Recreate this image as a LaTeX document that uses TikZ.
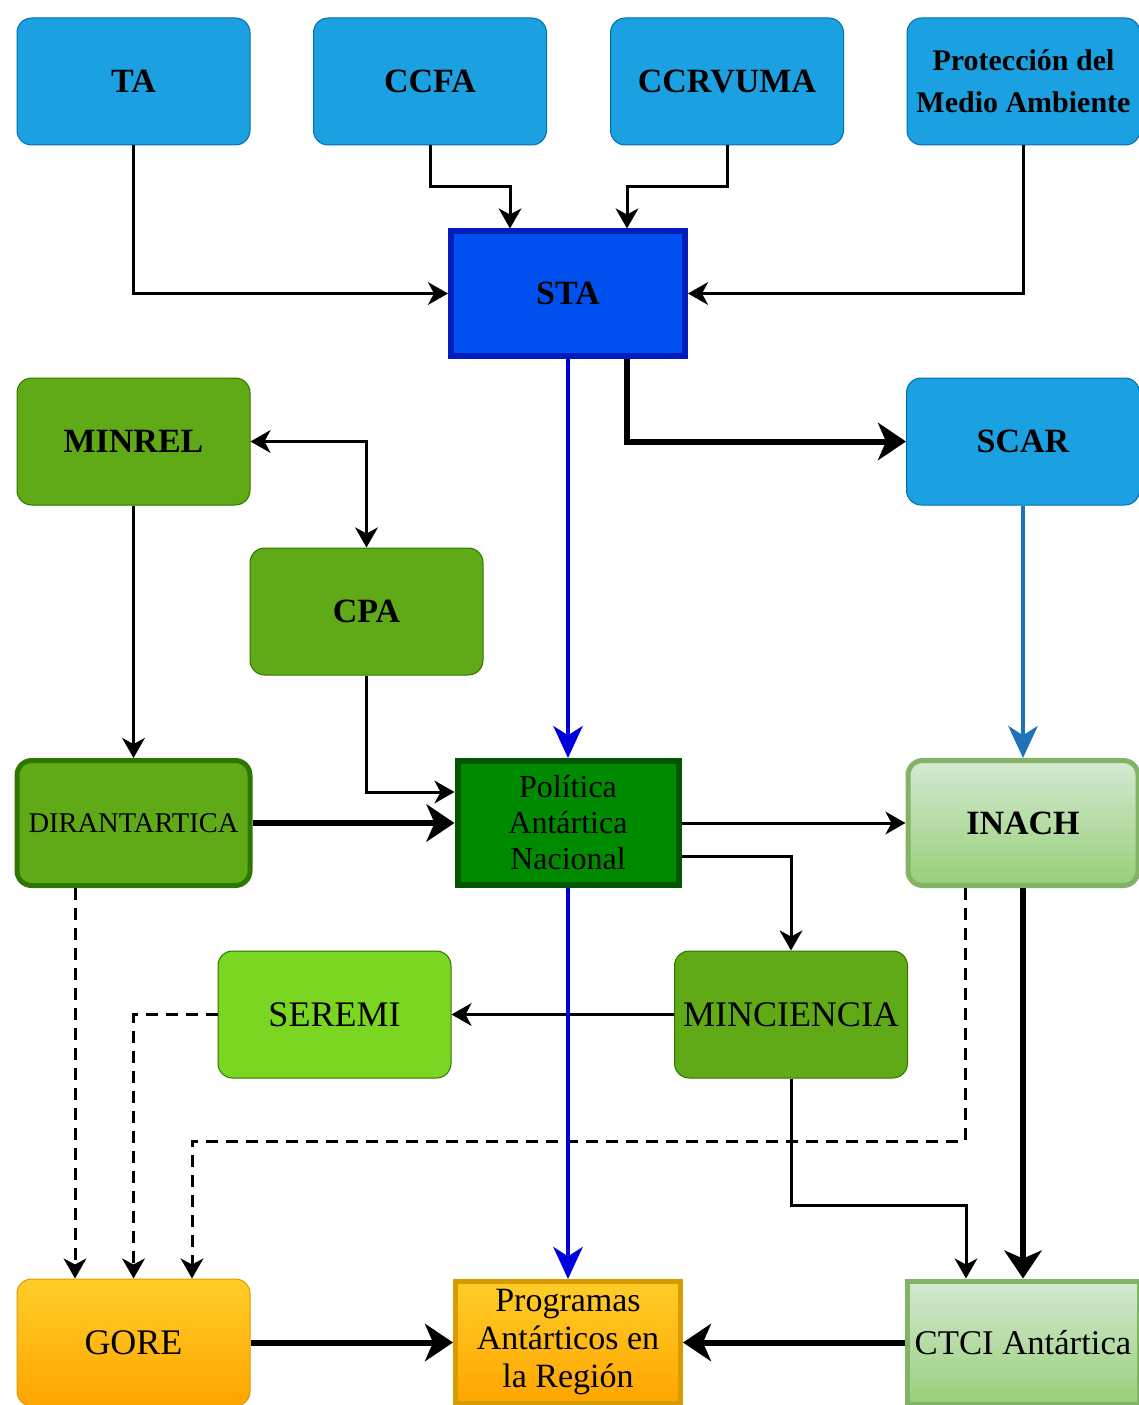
\documentclass[tikz,border=0pt]{standalone}
\usepackage{fontspec}
\setmainfont{Liberation Serif}
\usetikzlibrary{arrows.meta,calc}
\definecolor{blFill}{HTML}{1BA1E2}
\definecolor{blDraw}{HTML}{006EAF}
\definecolor{staFill}{HTML}{0050EF}
\definecolor{staDraw}{HTML}{001DBC}
\definecolor{gFill}{HTML}{60A917}
\definecolor{gDraw}{HTML}{2D7600}
\definecolor{seFill}{HTML}{7AD620}
\definecolor{panFill}{HTML}{008A00}
\definecolor{panDraw}{HTML}{005700}
\definecolor{lgTop}{HTML}{D5E8D4}
\definecolor{lgBot}{HTML}{97D077}
\definecolor{lgDraw}{HTML}{82B366}
\definecolor{orTop}{HTML}{FFCD28}
\definecolor{orBot}{HTML}{FFA500}
\definecolor{orDraw}{HTML}{D79B00}
\definecolor{arBlue}{HTML}{0000DD}
\definecolor{arSky}{HTML}{1D72B8}
\tikzset{
  rbox/.style={rounded corners=11pt, draw, line width=0.75pt, inner sep=0pt, align=center,
     minimum width=174.75pt, minimum height=95.25pt},
  bluebox/.style={rbox, fill=blFill, draw=blDraw, font=\bfseries\fontsize{25.5pt}{30pt}\selectfont},
  greenbox/.style={rbox, fill=gFill, draw=gDraw, font=\bfseries\fontsize{25.5pt}{30pt}\selectfont},
  thinar/.style={line width=2.25pt, -{Stealth[length=15pt,width=17pt,inset=4.5pt]}},
  thickar/.style={line width=4.5pt, -{Stealth[length=21pt,width=28pt,inset=6pt]}},
  bluear/.style={line width=3pt, arBlue, -{Stealth[length=24pt,width=22pt,inset=7pt]}},
  skyar/.style={line width=3pt, arSky, -{Stealth[length=24pt,width=22pt,inset=7pt]}},
  dashar/.style={line width=2.25pt, dash pattern=on 9pt off 6pt, -{Stealth[length=15pt,width=17pt,inset=4.5pt]}},
}
\begin{document}
\begin{tikzpicture}[x=0.75pt,y=-0.75pt]
\useasboundingbox (0,0) rectangle (1138,1405);
% top row
\node[bluebox] (TA) at (133.5,81.5) {TA};
\node[bluebox] (CCFA) at (430,81.5) {CCFA};
\node[bluebox] (CCR) at (727,81.5) {CCRVUMA};
\node[bluebox, font=\bfseries\fontsize{22.5pt}{31.5pt}\selectfont] (PMA) at (1023.5,81.5) {Protección del\\Medio Ambiente};
% STA
\node[draw=staDraw, fill=staFill, line width=4.5pt, minimum width=175.5pt, minimum height=93pt, inner sep=0pt,
      font=\bfseries\fontsize{25.5pt}{30pt}\selectfont] (STA) at (568,293.5) {STA};
% second row
\node[greenbox] (MINREL) at (133.5,441.5) {MINREL};
\node[bluebox] (SCAR) at (1023,441.5) {SCAR};
\node[greenbox] (CPA) at (366.5,611.5) {CPA};
% middle row
\node[rbox, fill=gFill, draw=gDraw, line width=3.75pt, minimum width=174.75pt, minimum height=93.75pt,
      font=\fontsize{21.4pt}{26pt}\selectfont] (DIR) at (133.5,823) {DIRANTARTICA};
\node[draw=panDraw, fill=panFill, line width=4.5pt, minimum width=165.75pt, minimum height=93pt, inner sep=0pt, align=center,
      font=\fontsize{24pt}{27pt}\selectfont] (PAN) at (568,823) {Política\\Antártica\\Nacional};
\node[rbox, top color=lgTop, bottom color=lgBot, draw=lgDraw, line width=3.75pt, minimum width=172.5pt, minimum height=93.75pt,
      font=\bfseries\fontsize{25.5pt}{30pt}\selectfont] (INACH) at (1023,823) {INACH};
% fourth row
\node[rbox, fill=seFill, draw=gDraw, font=\fontsize{27pt}{30pt}\selectfont] (SEREMI) at (334.5,1014.5) {SEREMI};
\node[rbox, fill=gFill, draw=gDraw, font=\fontsize{27pt}{30pt}\selectfont] (MINC) at (791,1014.5) {MINCIENCIA};
% bottom row
\node[rbox, top color=orTop, bottom color=orBot, draw=orDraw, font=\fontsize{27pt}{30pt}\selectfont] (GORE) at (133.5,1342.5) {GORE};
\node[draw=orDraw, top color=orTop, bottom color=orBot, line width=3.75pt, minimum width=168.75pt, minimum height=91.5pt, inner sep=0pt, align=center,
      font=\fontsize{25.5pt}{28.5pt}\selectfont] (PROG) at (568,1342.5) {Programas\\Antárticos en\\la Región};
\node[draw=lgDraw, top color=lgTop, bottom color=lgBot, line width=3.75pt, minimum width=174pt, minimum height=92.25pt, inner sep=0pt,
      font=\fontsize{26pt}{30pt}\selectfont] (CTCI) at (1023,1342.5) {CTCI Antártica};
% connectors
\draw[thinar] (TA.south) |- (STA.west);
\draw[thinar] (CCFA.south) -- ++(0,41) -| ($(STA.north)+(-58,0)$);
\draw[thinar] (CCR.south) -- ++(0,41) -| ($(STA.north)+(59,0)$);
\draw[thinar] (PMA.south) |- (STA.east);
\draw[thickar] ($(STA.south)+(59,0)$) |- (SCAR.west);
\draw[thinar, {Stealth[length=15pt,width=17pt,inset=4.5pt]}-{Stealth[length=15pt,width=17pt,inset=4.5pt]}] (MINREL.east) -| (CPA.north);
\draw[thinar] (MINREL.south) -- (DIR.north);
\draw[thinar] (CPA.south) |- ($(PAN.west)+(0,-31)$);
\draw[thickar] (DIR.east) -- (PAN.west);
\draw[thinar] (PAN.east) -- (INACH.west);
\draw[thinar] ($(PAN.east)+(0,33)$) -| (MINC.north);
\draw[thinar] (MINC.west) -- (SEREMI.east);
\draw[dashar] ($(DIR.south)+(-58.5,0)$) -- ($(GORE.north)+(-58.5,0)$);
\draw[dashar] (SEREMI.west) -| (GORE.north);
\draw[dashar] ($(INACH.south)+(-58,0)$) -- ++(0,253) -| ($(GORE.north)+(58.5,0)$);
\draw[thickar] (INACH.south) -- (CTCI.north);
\draw[thinar] (MINC.south) -- ++(0,127) -| ($(CTCI.north)+(-57,0)$);
\draw[thickar] (GORE.east) -- (PROG.west);
\draw[thickar] (CTCI.west) -- (PROG.east);
\draw[skyar] (SCAR.south) -- (INACH.north);
\draw[bluear] (STA.south) -- (PAN.north);
\draw[bluear] (PAN.south) -- (PROG.north);
\end{tikzpicture}
\end{document}
